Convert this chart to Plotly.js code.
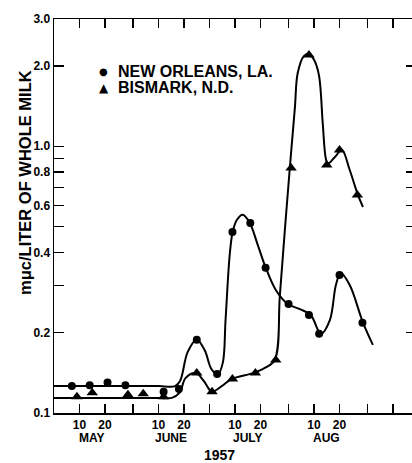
<!DOCTYPE html>
<html>
<head>
<meta charset="utf-8">
<script src="https://cdn.plot.ly/plotly-3.0.1.min.js"></script>
<style>
html,body{margin:0;padding:0;overflow:hidden;background:#fff;width:412px;height:463px;}
#chart{width:416px;height:463px;}
</style>
</head>
<body>
<div id="chart"></div>
<script>
// ---- Data (1957) ----
const seriesNames = ["NEW ORLEANS, LA.", "BISMARK, N.D."];
const seriesSymbols = ["\u25CF", "\u25B2"];

// New Orleans measured points
const noDates = ["1957-05-07","1957-05-14","1957-05-21","1957-05-28","1957-06-12","1957-06-18",
  "1957-06-25","1957-07-03","1957-07-09","1957-07-16","1957-07-22","1957-07-31",
  "1957-08-08","1957-08-12","1957-08-20","1957-08-29"];
const noValues = [0.126,0.127,0.130,0.127,0.120,0.123,
  0.188,0.140,0.477,0.516,0.350,0.256,
  0.233,0.198,0.329,0.218];

// Bismark measured points
const biDates = ["1957-05-09","1957-05-15","1957-05-29","1957-06-04","1957-06-12",
  "1957-06-25","1957-07-01","1957-07-09","1957-07-18","1957-07-26",
  "1957-08-01","1957-08-08","1957-08-15","1957-08-20","1957-08-27"];
const biValues = [0.115,0.119,0.117,0.118,0.115,
  0.141,0.120,0.134,0.141,0.158,
  0.829,2.20,0.851,0.968,0.657];

// Hand-drawn smoothed curves
const noCurveDates = ["1957-04-30","1957-05-15","1957-05-31","1957-06-10","1957-06-16 12:00",
  "1957-06-18 12:00","1957-06-21 10:00","1957-06-25",
  "1957-06-28 02:00","1957-06-30 18:00","1957-07-03 05:00","1957-07-05 05:00","1957-07-06 07:00",
  "1957-07-07 22:00","1957-07-09 02:00","1957-07-10 17:00","1957-07-13","1957-07-15 19:00",
  "1957-07-18 22:00","1957-07-22 02:00","1957-07-26","1957-07-30 17:00","1957-08-04 10:00",
  "1957-08-08 17:00","1957-08-12 17:00","1957-08-16 05:00","1957-08-18 14:00","1957-08-20 12:00",
  "1957-08-24","1957-08-29 05:00","1957-09-02 02:00"];
const noCurveValues = [0.126,0.126,0.126,0.126,0.126,
  0.132,0.169,0.188,
  0.172,0.146,0.139,0.154,0.223,
  0.391,0.477,0.529,0.553,0.516,
  0.427,0.350,0.289,0.256,0.245,
  0.233,0.198,0.223,0.302,0.335,
  0.302,0.218,0.180];

const biCurveDates = ["1957-04-30","1957-05-15","1957-05-31","1957-06-10","1957-06-15 05:00",
  "1957-06-18 07:00","1957-06-20 14:00","1957-06-24 14:00",
  "1957-06-27 17:00","1957-06-30 22:00","1957-07-04 19:00","1957-07-08 17:00","1957-07-17",
  "1957-07-21 17:00","1957-07-25 14:00","1957-07-27 14:00","1957-07-29 12:00","1957-07-31 12:00",
  "1957-08-02 12:00","1957-08-03 14:00","1957-08-06","1957-08-08","1957-08-10",
  "1957-08-11 22:00","1957-08-13 10:00","1957-08-14 14:00","1957-08-15 10:00","1957-08-18 05:00",
  "1957-08-20 22:00","1957-08-24","1957-08-27 05:00","1957-08-29 05:00"];
const biCurveValues = [0.1138,0.1138,0.1138,0.1138,0.1138,
  0.119,0.135,0.141,
  0.132,0.120,0.126,0.134,0.141,
  0.1475,0.158,0.275,0.477,0.829,
  1.40,1.88,2.18,2.22,2.11,
  1.85,1.22,0.904,0.86,0.912,
  0.968,0.815,0.657,0.592];

// Axis ticks
const xTickVals = ["1957-05-10","1957-05-20","1957-05-31","1957-06-10","1957-06-20","1957-06-30",
  "1957-07-10","1957-07-20","1957-07-31","1957-08-10","1957-08-20","1957-08-31","1957-09-10"];
const xTickText = ["10","20","","10","20","","10","20","","10","20","",""];
const monthLabels = ["MAY","JUNE","JULY","AUG"];
const monthCenters = ["1957-05-15","1957-06-15","1957-07-15","1957-08-15"];
const yTickVals = [0.1,0.2,0.3,0.4,0.5,0.6,0.7,0.8,0.9,1,2,3];
const yTickText = ["0.1","0.2","","0.4","","0.6","","0.8","","1.0","2.0","3.0"];

// ---- Plot ----
const FONT = "Liberation Sans, Arial, sans-serif";
const traces = [
  {x: noCurveDates, y: noCurveValues, mode: "lines", line: {color: "#000", width: 2, shape: "spline", smoothing: 1},
   showlegend: false, hoverinfo: "skip"},
  {x: biCurveDates, y: biCurveValues, mode: "lines", line: {color: "#000", width: 2, shape: "spline", smoothing: 1},
   showlegend: false, hoverinfo: "skip"},
  {x: noDates, y: noValues, mode: "markers", name: seriesNames[0], showlegend: false,
   marker: {symbol: "circle", size: 8, color: "#000"}},
  {x: biDates, y: biValues, mode: "markers", name: seriesNames[1], showlegend: false,
   marker: {symbol: "triangle-up", size: 10, color: "#000"}}
];

const annotations = monthLabels.map((m, i) => ({
  text: m, x: monthCenters[i], xref: "x", y: -0.064, yref: "paper",
  xanchor: "center", yanchor: "middle", showarrow: false,
  font: {family: FONT, size: 12, color: "#000", weight: "bold"}
}));
annotations.push({text: "1957", x: "1957-07-04", xref: "x", y: -0.107, yref: "paper",
  xanchor: "center", yanchor: "middle", showarrow: false,
  font: {family: FONT, size: 14, color: "#000", weight: "bold"}});
annotations.push({text: "m\u03BCc/LITER OF WHOLE MILK", textangle: -90,
  x: -0.080, xref: "paper", y: 0.584, yref: "paper",
  xanchor: "center", yanchor: "middle", showarrow: false,
  font: {family: FONT, size: 16.5, color: "#000", weight: "bold"}});
// Legend (key) entries
const legendRowsY = [0.868, 0.825];
seriesNames.forEach((n, i) => {
  annotations.push({text: seriesSymbols[i], x: 0.138, xref: "paper", y: legendRowsY[i], yref: "paper",
    xanchor: "center", yanchor: "middle", showarrow: false,
    font: {family: "DejaVu Sans", size: i === 0 ? 10 : 12, color: "#000"}});
  annotations.push({text: n, x: 0.172, xref: "paper", y: legendRowsY[i], yref: "paper",
    xanchor: "left", yanchor: "middle", showarrow: false,
    font: {family: FONT, size: 16, color: "#000", weight: "bold"}});
});

const layout = {
  width: 416, height: 463,
  margin: {l: 54, r: 0, t: 19, b: 50},
  paper_bgcolor: "#fff", plot_bgcolor: "#fff",
  font: {family: FONT, color: "#000"},
  showlegend: false,
  xaxis: {type: "date", range: ["1957-04-30", "1957-09-19"],
    tickmode: "array", tickvals: xTickVals, ticktext: xTickText,
    ticks: "inside", ticklen: 9, tickwidth: 1.5, tickcolor: "#000",
    showline: true, linecolor: "#000", linewidth: 1.5, mirror: "ticks",
    showgrid: false, zeroline: false,
    tickfont: {family: FONT, size: 12, color: "#000", weight: "bold"}},
  yaxis: {type: "log", range: [-1.0005, 0.4775],
    tickmode: "array", tickvals: yTickVals, ticktext: yTickText,
    ticks: "inside", ticklen: 10, tickwidth: 1.5, tickcolor: "#000",
    showline: true, linecolor: "#000", linewidth: 1.5, mirror: "ticks",
    showgrid: false, zeroline: false,
    tickfont: {family: FONT, size: 12, color: "#000", weight: "bold"}},
  annotations: annotations
};

Plotly.newPlot("chart", traces, layout, {displayModeBar: false, staticPlot: true});
</script>
</body>
</html>
